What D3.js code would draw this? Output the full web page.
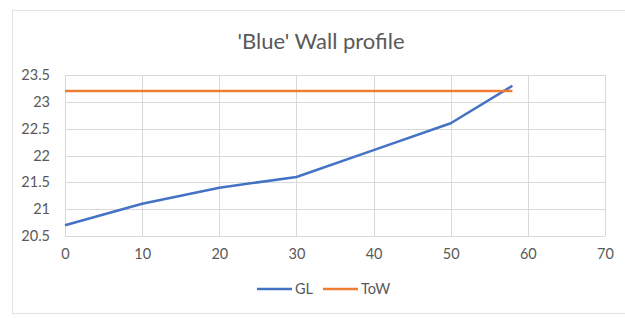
<!DOCTYPE html>
<html lang="en">
<head>
    <meta charset="UTF-8">
    <title>'Blue' Wall profile</title>
    <script src="https://d3js.org/d3.v7.min.js"></script>
    <style>
        body { margin: 0; background: #fff; }
        text { font-family: Lato, "Open Sans", sans-serif; fill: #595959; }
    </style>
</head>
<body>
    <div id="chart-container"></div>

    <script>
        // Data
        const glX = [0, 10, 20, 30, 40, 50, 58];
        const glY = [20.7, 21.1, 21.4, 21.6, 22.1, 22.6, 23.3];
        const towX = [0, 58];
        const towY = [23.2, 23.2];
        const xTicks = [0, 10, 20, 30, 40, 50, 60, 70];
        const yTicks = [20.5, 21, 21.5, 22, 22.5, 23, 23.5];
        const seriesNames = ["GL", "ToW"];
        const seriesColors = ["#4472C4", "#ED7D31"];

        const width = 625, height = 318;
        const svg = d3.select("#chart-container")
            .append("svg")
            .attr("width", width)
            .attr("height", height);

        // chart frame (only top/left/bottom visible)
        svg.append("rect")
            .attr("x", 12.5)
            .attr("y", 10.5)
            .attr("width", 700)
            .attr("height", 303)
            .attr("fill", "none")
            .attr("stroke", "#e3e3e3");

        const xScale = d3.scaleLinear().domain([0, 70]).range([65, 605]);
        const yScale = d3.scaleLinear().domain([20.5, 23.5]).range([236, 75]);

        // gridlines
        svg.append("g")
            .selectAll("line.h")
            .data(yTicks)
            .enter().append("line")
            .attr("x1", xScale(0)).attr("x2", xScale(70))
            .attr("y1", d => Math.round(yScale(d)) + 0.5)
            .attr("y2", d => Math.round(yScale(d)) + 0.5)
            .attr("stroke", "#d9d9d9");

        svg.append("g")
            .selectAll("line.v")
            .data(xTicks)
            .enter().append("line")
            .attr("x1", d => Math.round(xScale(d)) + 0.5)
            .attr("x2", d => Math.round(xScale(d)) + 0.5)
            .attr("y1", yScale(20.5)).attr("y2", yScale(23.5))
            .attr("stroke", "#d9d9d9");

        // axes (labels only)
        const xAxis = d3.axisBottom(xScale).tickValues(xTicks).tickSize(0).tickPadding(13);
        const yAxis = d3.axisLeft(yScale).tickValues(yTicks).tickSize(0).tickPadding(15)
            .tickFormat(d => String(d));

        const gx = svg.append("g")
            .attr("transform", `translate(0,${yScale(20.5)})`)
            .call(xAxis);
        const gy = svg.append("g")
            .attr("transform", `translate(${xScale(0)},0)`)
            .call(yAxis);

        [gx, gy].forEach(g => {
            g.select(".domain").remove();
            g.selectAll("text")
                .attr("fill", "#595959")
                .style("font-size", "14.5px");
        });

        // lines
        const line = d3.line()
            .x(d => xScale(d[0]))
            .y(d => yScale(d[1]));

        const glData = glX.map((x, i) => [x, glY[i]]);
        const towData = towX.map((x, i) => [x, towY[i]]);

        svg.append("path")
            .datum(glData)
            .attr("d", line)
            .attr("fill", "none")
            .attr("stroke", seriesColors[0])
            .attr("stroke-width", 2.5)
            .attr("stroke-linejoin", "round");

        svg.append("path")
            .datum(towData)
            .attr("d", line)
            .attr("fill", "none")
            .attr("stroke", seriesColors[1])
            .attr("stroke-width", 2.5);

        // title
        svg.append("text")
            .attr("x", 321)
            .attr("y", 49)
            .attr("text-anchor", "middle")
            .style("font-size", "22px")
            .text("'Blue' Wall profile");

        // legend
        const legendX = [257, 323];
        const legend = svg.append("g")
            .selectAll("g")
            .data(seriesNames)
            .enter().append("g")
            .attr("transform", (d, i) => `translate(${legendX[i]},289)`);

        legend.append("line")
            .attr("x1", 0).attr("x2", 35)
            .attr("y1", 0).attr("y2", 0)
            .attr("stroke", (d, i) => seriesColors[i])
            .attr("stroke-width", 2.5);

        legend.append("text")
            .attr("x", 38)
            .attr("y", 0)
            .attr("dy", "0.35em")
            .style("font-size", "14.5px")
            .text(d => d);
    </script>
</body>
</html>
